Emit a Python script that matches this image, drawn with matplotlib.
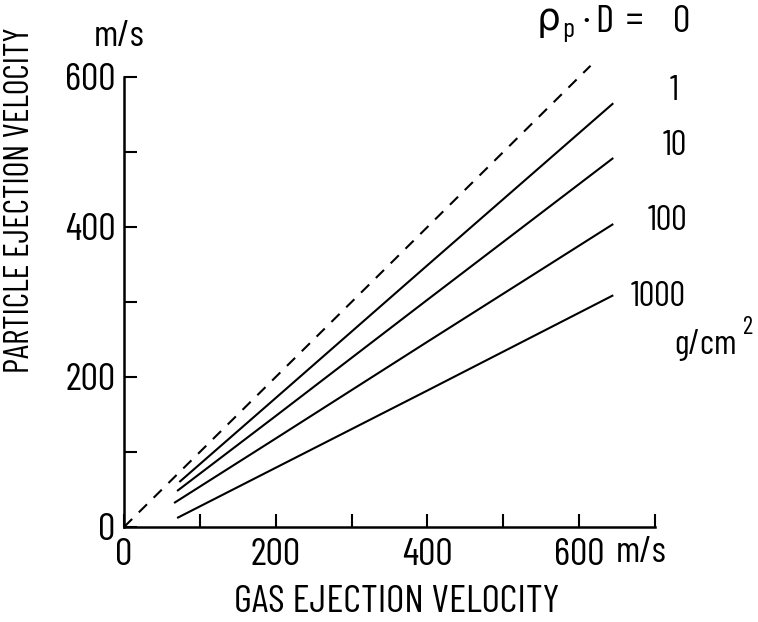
import matplotlib
matplotlib.use("Agg")
import matplotlib.pyplot as plt

FONT = ["Barlow Condensed", "DejaVu Sans"]
plt.rcParams["font.family"] = FONT

# ---- data ----
gas_dash = [0, 615]
part_dash = [0, 615]

gas_1 = [73, 200, 400, 645]
part_1 = [60, 172, 349, 565]

gas_10 = [70, 200, 400, 645]
part_10 = [48, 148, 303, 492]

gas_100 = [66, 200, 400, 645]
part_100 = [32, 118, 247, 404]

gas_1000 = [70, 200, 400, 645]
part_1000 = [12, 79, 182, 309]

curve_labels = ["0", "1", "10", "100", "1000"]
x_ticks = [0, 100, 200, 300, 400, 500, 600, 700]
x_tick_labels = ["0", "", "200", "", "400", "", "600", ""]
y_ticks = [0, 100, 200, 300, 400, 500, 600]
y_tick_labels = ["0", "", "200", "", "400", "", "600"]

W, H = 758, 622
fig = plt.figure(figsize=(W / 100, H / 100), dpi=100)
ax = fig.add_axes([124 / W, 1 - 527 / H, (655 - 124) / W, (527 - 77) / H])

lw = 1.5
ax.plot(gas_dash, part_dash, color="black", lw=lw, dashes=(5.5, 4.5))
for gx, py in [(gas_1, part_1), (gas_10, part_10), (gas_100, part_100), (gas_1000, part_1000)]:
    ax.plot(gx, py, color="black", lw=lw, solid_capstyle="butt")

ax.set_xlim(0, 700)
ax.set_ylim(0, 600)
for s in ["top", "right"]:
    ax.spines[s].set_visible(False)
for s in ["left", "bottom"]:
    ax.spines[s].set_linewidth(1.8)
ax.set_xticks(x_ticks)
ax.set_xticklabels(x_tick_labels)
ax.set_yticks(y_ticks)
ax.set_yticklabels(y_tick_labels)
ax.tick_params(direction="in", length=9.5, width=1.5, labelsize=28, pad=8)
ax.tick_params(axis="y", pad=6)
for line in ax.lines:
    line.set_clip_on(False)

def px(x, y):
    return x / W, 1 - y / H

fig.text(*px(20, 200), "PARTICLE EJECTION VELOCITY", rotation=90, ha="center", va="center", fontsize=24.5)
fig.text(*px(397, 602), "GAS EJECTION VELOCITY", ha="center", va="center", fontsize=28.5)
fig.text(*px(119, 36), "m/s", ha="center", va="center", fontsize=27)
fig.text(*px(641, 553), "m/s", ha="center", va="center", fontsize=27)

# curve annotation
fig.text(*px(549, 22), "ρ", ha="center", va="center", fontsize=27)
fig.text(*px(568, 30), "p", ha="center", va="center", fontsize=20)
fig.text(*px(586, 22), "·", ha="center", va="center", fontsize=28)
fig.text(*px(604, 22), "D", ha="center", va="center", fontsize=28)
fig.text(*px(634, 22), "=", ha="center", va="center", fontsize=28)
fig.text(*px(682, 22), curve_labels[0], ha="center", va="center", fontsize=28)
label_pos = [(674, 91), (675, 146), (667, 221), (658, 297)]
for lab, (lx, ly) in zip(curve_labels[1:], label_pos):
    fig.text(*px(lx, ly), lab, ha="center", va="center", fontsize=25)
fig.text(*px(705, 345), "g/cm", ha="center", va="center", fontsize=25)
fig.text(*px(748, 327), "2", ha="center", va="center", fontsize=18)

fig.savefig("out.png", dpi=100)
